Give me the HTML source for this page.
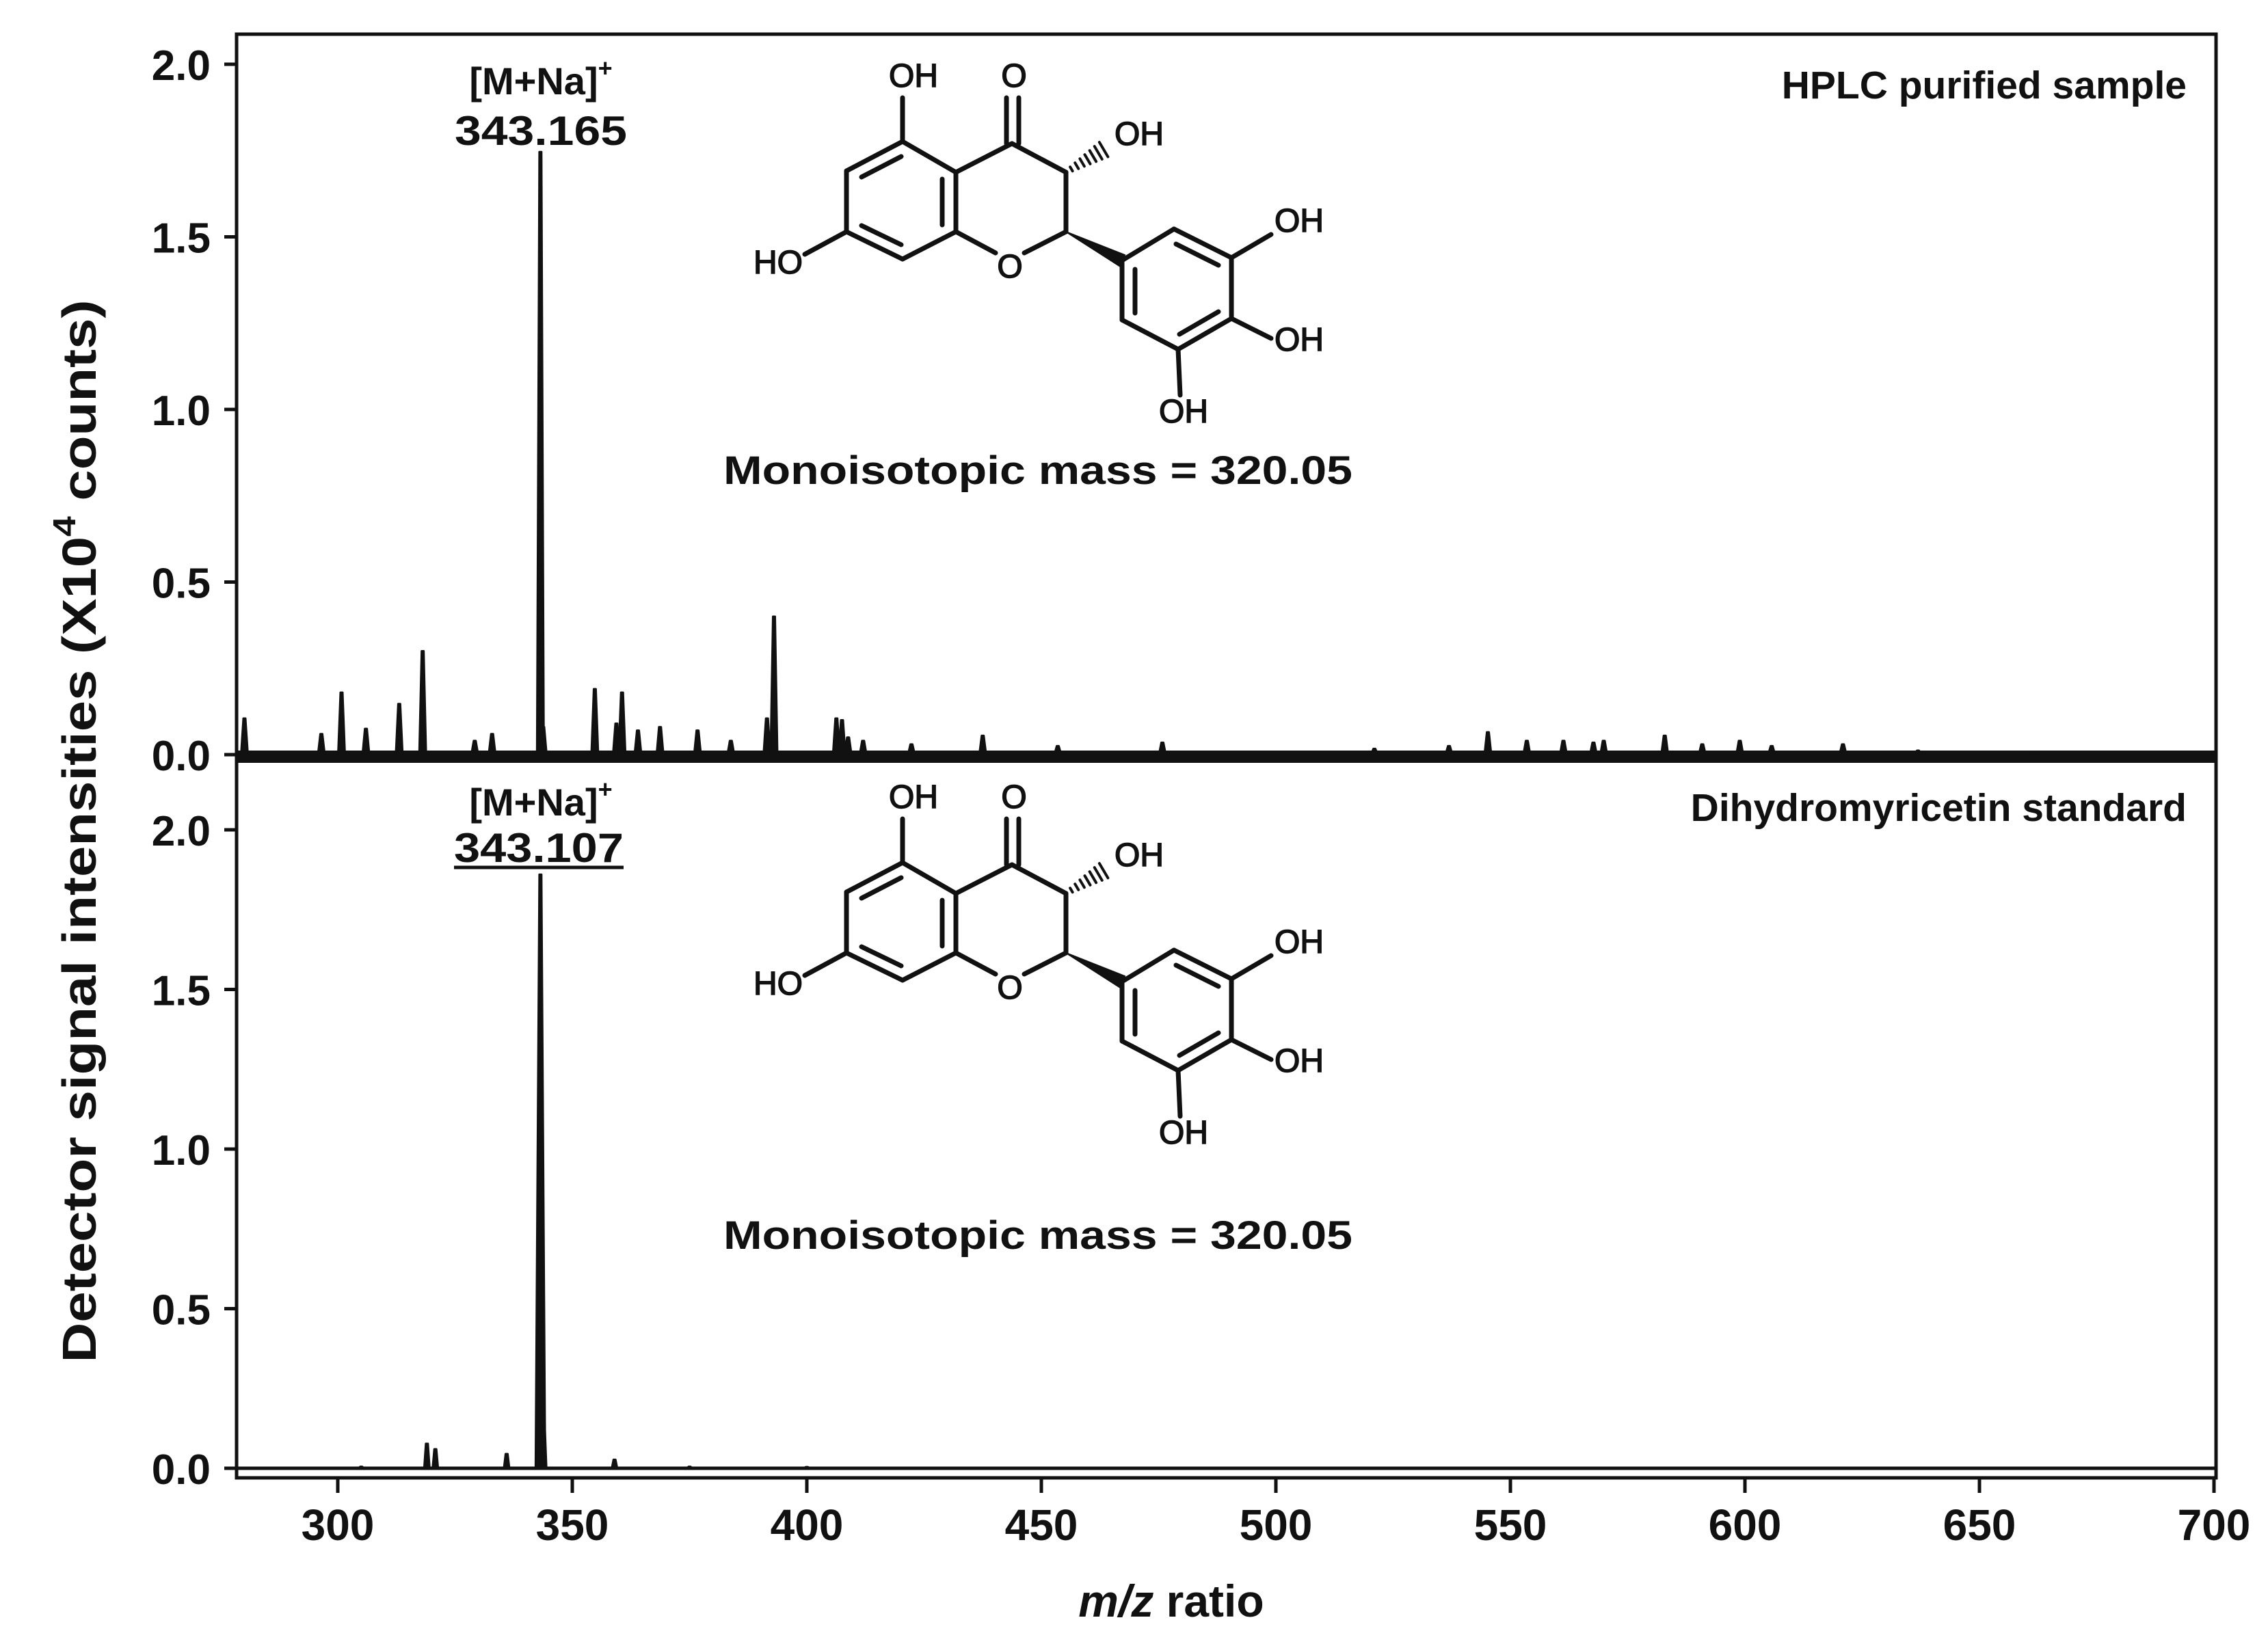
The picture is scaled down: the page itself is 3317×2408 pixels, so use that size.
<!DOCTYPE html>
<html><head><meta charset="utf-8"><style>
html,body{margin:0;padding:0;background:#fff}
svg{display:block}
text{font-family:"Liberation Sans",Arial,sans-serif;fill:#111}
</style></head><body>
<svg id="chart" width="3317" height="2408" viewBox="0 0 3317 2408" xmlns="http://www.w3.org/2000/svg">
<rect x="0" y="0" width="3317" height="2408" fill="#fff"/>
<g id="marks"></g>
<g id="mol"></g>
<g id="texts" font-weight="bold">
  <text x="3198" y="144" font-size="57" text-anchor="end">HPLC purified sample</text>
  <text x="3198" y="1201" font-size="57" text-anchor="end">Dihydromyricetin standard</text>
  <text x="791" y="138" font-size="56" text-anchor="middle">[M+Na]<tspan dy="-26" font-size="36">+</tspan></text>
  <text x="791" y="212" font-size="60" text-anchor="middle" textLength="252" lengthAdjust="spacingAndGlyphs">343.165</text>
  <text x="791" y="1193" font-size="56" text-anchor="middle">[M+Na]<tspan dy="-26" font-size="36">+</tspan></text>
  <text x="788" y="1261" font-size="60" text-anchor="middle" textLength="248" lengthAdjust="spacingAndGlyphs">343.107</text>
  <line x1="664" y1="1269" x2="912" y2="1269" stroke="#111" stroke-width="5"/>
  <text x="1518" y="708" font-size="58" text-anchor="middle" textLength="920" lengthAdjust="spacingAndGlyphs">Monoisotopic mass = 320.05</text>
  <text x="1518" y="1827" font-size="58" text-anchor="middle" textLength="920" lengthAdjust="spacingAndGlyphs">Monoisotopic mass = 320.05</text>
  <text transform="translate(140,1216) rotate(-90)" font-size="70" text-anchor="middle" textLength="1555" lengthAdjust="spacingAndGlyphs">Detector signal intensities (X10<tspan dy="-30" font-size="46">4</tspan><tspan dy="30"> counts)</tspan></text>
  <text x="1713" y="2365" font-size="66" text-anchor="middle"><tspan font-style="italic">m/z</tspan> ratio</text>
</g>
</svg>
<script>
// ---- data ----
const xTicks = [300,350,400,450,500,550,600,650,700];
const yTicks = [0.0,0.5,1.0,1.5,2.0];
const yTickLabels = ["0.0","0.5","1.0","1.5","2.0"];
const topMz =  [280.1,296.5,300.8,306.0,313.1,318.1,329.2,332.9,343.2,343.8,354.8,359.4,360.6,364.0,368.7,376.7,383.8,391.5,393.0,406.3,407.5,408.8,412.0,422.3,437.5,453.5,475.8,521.0,536.9,545.2,553.5,561.3,567.7,569.9,582.9,590.9,598.9,605.7,620.9,636.9,661.6];
const topInt = [0.105,0.06,0.18,0.075,0.147,0.30,0.04,0.06,1.746,0.08,0.19,0.09,0.18,0.07,0.08,0.07,0.04,0.105,0.40,0.105,0.10,0.05,0.04,0.03,0.055,0.025,0.035,0.017,0.025,0.065,0.04,0.04,0.035,0.04,0.055,0.03,0.04,0.025,0.03,0.012,0.008];
const botMz =  [305.0,319.0,320.8,336.0,343.2,343.9,359.0,375.0,400.0];
const botInt = [0.005,0.077,0.06,0.045,1.86,0.14,0.027,0.005,0.004];

// ---- axes ----
const X0=494, XS=6.86;
const xS = v => X0 + (v-300)*XS;
const yTop = v => 1104 - v*505;
const yBot = v => 2148 - v*467;
const L=346, R=3241, T=50, MID=1113, B=2162;
const NS="http://www.w3.org/2000/svg";
const marks=document.getElementById('marks');
function mk(tag,attrs,parent){const e=document.createElementNS(NS,tag);for(const k in attrs)e.setAttribute(k,attrs[k]);(parent||marks).appendChild(e);return e;}

let f=mk('rect',{x:L,y:T,width:R-L,height:B-T,fill:'none',stroke:'#111','stroke-width':5});


let d=mk('line',{x1:L,y1:MID,x2:R,y2:MID,stroke:'#111','stroke-width':6});



let b1=mk('rect',{x:L,y:1098,width:R-L,height:13,fill:'#111'});


let b2=mk('line',{x1:L,y1:yBot(0),x2:R,y2:yBot(0),stroke:'#111','stroke-width':5});



[[yTop,'top'],[yBot,'bottom']].forEach(([ys,nm])=>{
  yTicks.forEach((v,i)=>{
    const t=mk('line',{x1:L-18,y1:ys(v),x2:L,y2:ys(v),stroke:'#111','stroke-width':5});
    
    
    const l=mk('text',{x:308,y:ys(v)+23,'font-size':62,'font-weight':'bold','text-anchor':'end'});
    
    
    l.textContent=yTickLabels[i];
  });
});
xTicks.forEach(v=>{
  const t=mk('line',{x1:xS(v),y1:B,x2:xS(v),y2:B+22,stroke:'#111','stroke-width':5});
  
  
  const l=mk('text',{x:xS(v),y:2253,'font-size':64,'font-weight':'bold','text-anchor':'middle'});
  
  
  l.textContent=String(v);
});
function peak(mz,val,ys,nm,w){
  const x=xS(mz), y=ys(val), y0=ys(0);
  const p=mk('path',{d:`M${x-w} ${y0} L${x-1.5} ${y} L${x+1.5} ${y} L${x+w} ${y0} Z`,fill:'#111',stroke:'#111','stroke-width':3,'stroke-linejoin':'round'});
  
  
}
topMz.forEach((m,i)=>peak(m,topInt[i],yTop,'top-peak',5));
botMz.forEach((m,i)=>peak(m,botInt[i],yBot,'bottom-peak',i===4?7:4));

// ---- molecule ----
const mol=document.getElementById('mol');
function drawMol(dy,nm){
  const g=mk('g',{transform:`translate(0,${dy})`,stroke:'#111','stroke-width':7,'stroke-linecap':'round',fill:'none'},mol);
  
  
  const bonds=[[1320,207,1238,250],[1238,250,1238,339],[1238,339,1320,379],[1320,379,1398,339],[1398,339,1398,252],[1398,252,1320,207],
    [1398,252,1480,210],[1480,210,1559,252],[1559,252,1559,339],[1398,339,1456,370],[1498,370,1559,339],
    [1320,207,1320,143],[1238,339,1177,372],
    [1641,381,1717,335],[1717,335,1801,377],[1801,377,1801,466],[1801,466,1723,511],[1723,511,1641,468],[1641,468,1641,381],
    [1801,377,1859,343],[1801,466,1859,495],[1723,511,1726,578]];
  bonds.forEach(b=>mk('line',{x1:b[0],y1:b[1],x2:b[2],y2:b[3]},g));
  const dbl=[[1318,229,1260,259],[1260,330,1318,358],[1378,262,1378,329],[1660,394,1660,458],[1720,357,1782,388],[1782,456,1725,489]];
  dbl.forEach(b=>mk('line',{x1:b[0],y1:b[1],x2:b[2],y2:b[3]},g));
  mk('line',{x1:1472,y1:210,x2:1472,y2:143},g);
  mk('line',{x1:1490,y1:210,x2:1490,y2:143},g);
  mk('path',{d:'M1559 339 L1645 373 L1637 389 Z',fill:'#111','stroke-width':2},g);
  for(let k=1;k<=7;k++){const t=k/8;const x=1559+(1622-1559)*t,y=252+(214-252)*t;const h=2+t*12;
    mk('line',{x1:x-h*0.5,y1:y-h*0.85,x2:x+h*0.5,y2:y+h*0.85,'stroke-width':4},g);}
  const labels=[[1336,127,'OH'],[1483,127,'O'],[1666,212,'OH'],[1138,400,'HO'],[1477,406,'O'],[1900,339,'OH'],[1900,513,'OH'],[1731,618,'OH']];
  labels.forEach(l=>{const t=mk('text',{x:l[0],y:l[1],'font-size':48,'text-anchor':'middle',stroke:'#111','stroke-width':1.5,fill:'#111'},g);
    
    
    t.textContent=l[2];});
}
drawMol(0,'top-structure');
drawMol(1055,'bottom-structure');
</script>
</body></html>
